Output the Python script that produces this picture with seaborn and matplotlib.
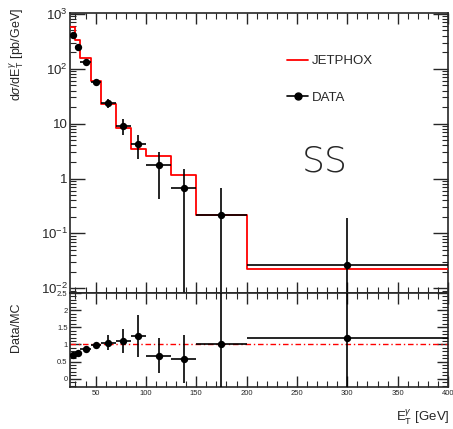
import numpy as np
import pandas as pd
import matplotlib
matplotlib.use("Agg")
import matplotlib.pyplot as plt
import seaborn as sns
from matplotlib.lines import Line2D
from matplotlib.ticker import MultipleLocator, LogLocator, FixedLocator, FixedFormatter, NullFormatter

# ---------------- data ----------------
bin_edges = [25, 30, 35, 45, 55, 70, 85, 100, 125, 150, 200, 400]
bin_centers = [27.5, 32.5, 40, 50, 62.5, 77.5, 92.5, 112.5, 137.5, 175, 300]
jetphox = [581, 333, 155, 60, 23.0, 8.3, 3.4, 2.6, 1.17, 0.213, 0.0223]
data_val = [410, 252, 135, 58, 23.7, 9.2, 4.27, 1.74, 0.667, 0.219, 0.0268]
data_lo = [380, 235, 126, 54, 19.0, 6.3, 2.27, 0.43, 0.0001, 0.0001, 0.0001]
data_hi = [440, 270, 145, 62, 28.0, 12.1, 6.3, 3.0, 1.47, 0.68, 0.188]
ratio = [0.68, 0.76, 0.87, 0.97, 1.05, 1.10, 1.25, 0.67, 0.58, 1.01, 1.20]
ratio_err = [0.04, 0.04, 0.04, 0.07, 0.22, 0.35, 0.61, 0.51, 0.70, 3.0, 3.0]
legend_labels = ["JETPHOX", "DATA"]
panel_label = "SS"

# ---------------- style ----------------
sns.set_style("ticks")
plt.rcParams["font.family"] = ["Liberation Sans", "DejaVu Sans"]
plt.rcParams["mathtext.fontset"] = "custom"
plt.rcParams["mathtext.rm"] = "Liberation Sans"
plt.rcParams["mathtext.it"] = "Liberation Sans:italic"
plt.rcParams["mathtext.bf"] = "Liberation Sans:bold"

W, H = 453, 429
fig = plt.figure(figsize=(W / 100, H / 100), dpi=100)
L, R = 70.4, 448.0
ax1 = fig.add_axes([L / W, (H - 293) / H, (R - L) / W, (293 - 12.7) / H])
ax2 = fig.add_axes([L / W, (H - 387.3) / H, (R - L) / W, (387.3 - 293) / H])

edges = np.array(bin_edges, dtype=float)
centers = np.array(bin_centers, dtype=float)
halfw = np.diff(edges) / 2
dv = np.array(data_val)

# ---- top panel ----
step_df = pd.DataFrame({"x": edges, "y": list(jetphox) + [jetphox[-1]]})
sns.lineplot(data=step_df, x="x", y="y", drawstyle="steps-post", color="red",
             lw=1.3, ax=ax1, estimator=None, sort=False, zorder=3)
ax1.errorbar(centers, dv, xerr=halfw,
             yerr=[dv - np.array(data_lo), np.array(data_hi) - dv],
             fmt="none", ecolor="black", elinewidth=1.2, capsize=0, zorder=4)
sns.scatterplot(x=centers, y=dv, color="black", s=28, edgecolor="black",
                linewidth=0, ax=ax1, zorder=5)
ax1.set_yscale("log")
ax1.set_xlim(25, 400)
ax1.set_ylim(0.0082, 1050)
ax1.set_xlabel("")
ax1.set_ylabel("")

ax1.yaxis.set_major_locator(FixedLocator([1e-2, 1e-1, 1, 10, 100, 1000]))
ax1.yaxis.set_major_formatter(FixedFormatter(
    ["10$^{-2}$", "10$^{-1}$", "1", "10", "10$^{2}$", "10$^{3}$"]))
ax1.yaxis.set_minor_locator(LogLocator(base=10, subs=np.arange(2, 10), numticks=20))
ax1.yaxis.set_minor_formatter(NullFormatter())
ax1.xaxis.set_major_locator(MultipleLocator(50))
ax1.xaxis.set_minor_locator(MultipleLocator(10))
ax1.tick_params(axis="x", labelbottom=False)
ax1.tick_params(axis="y", labelsize=9.5, pad=2)
ax1.tick_params(which="major", direction="in", top=True, right=True, length=8, width=1.0)
ax1.tick_params(which="minor", direction="in", top=True, right=True, length=4, width=0.8)
ax1.tick_params(axis="y", which="major", length=11)

handles = [Line2D([0], [0], color="red", lw=1.3),
           Line2D([0], [0], color="black", lw=1.2, marker="o", markersize=5)]
ax1.legend(handles, legend_labels, loc="upper left",
           bbox_to_anchor=((287 - L) / (R - L), 1 - (55 - 12.7) / 280.3),
           frameon=False, fontsize=9.5, handlelength=1.6, handletextpad=0.3,
           labelspacing=1.85, borderpad=0, borderaxespad=0)
ax1.text((325 - L) / (R - L), 1 - (161 - 12.7) / 280.3, panel_label,
         transform=ax1.transAxes, ha="center", va="center", fontsize=26,
         family=["DejaVu Sans"], fontweight=200)

# ---- ratio panel ----
ax2.axhline(1, color="red", lw=1.0, ls=(0, (4, 2, 1, 2)), zorder=2)
ax2.errorbar(centers, ratio, xerr=halfw, yerr=ratio_err, fmt="none",
             ecolor="black", elinewidth=1.2, capsize=0, zorder=4)
sns.scatterplot(x=centers, y=ratio, color="black", s=28, edgecolor="black",
                linewidth=0, ax=ax2, zorder=5)
ax2.set_xlim(25, 400)
ax2.set_ylim(-0.25, 2.5)
ax2.set_xlabel("")
ax2.set_ylabel("")
ax2.xaxis.set_major_locator(MultipleLocator(50))
ax2.xaxis.set_minor_locator(MultipleLocator(10))
ax2.yaxis.set_minor_locator(MultipleLocator(0.1))
ax2.yaxis.set_major_locator(FixedLocator([0, 0.5, 1, 1.5, 2, 2.5]))
ax2.yaxis.set_major_formatter(FixedFormatter(["0", "0.5", "1", "1.5", "2", "2.5"]))
ax2.tick_params(labelsize=5.5, pad=2)
ax2.tick_params(which="major", direction="in", top=True, right=True, length=8, width=1.0)
ax2.tick_params(which="minor", direction="in", top=True, right=True, length=4, width=0.8)

for ax in (ax1, ax2):
    for s in ax.spines.values():
        s.set_linewidth(1.2)
        s.set_visible(True)

fig.text(17 / W, 1 - 8 / H, "d$\\sigma$/dE$_{\\rm T}^{\\gamma}$ [pb/GeV]",
         rotation=90, ha="center", va="top", fontsize=9)
fig.text(16 / W, 1 - 327 / H, "Data/MC", rotation=90, ha="center",
         va="center", fontsize=9)
fig.text(450 / W, 1 - 417 / H, "E$_{\\rm T}^{\\gamma}$ [GeV]", ha="right",
         va="center", fontsize=9.5)

fig.savefig("out.png", dpi=100)
